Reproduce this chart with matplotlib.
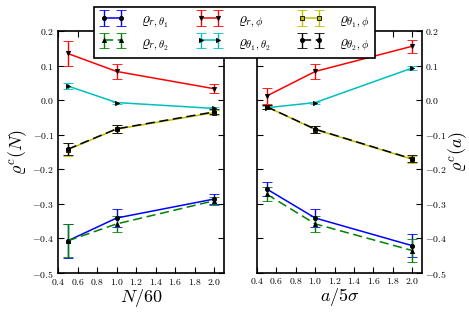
import matplotlib
matplotlib.use("Agg")
import matplotlib.pyplot as plt
from matplotlib.ticker import FuncFormatter, MultipleLocator

plt.rcParams["mathtext.fontset"] = "cm"
plt.rcParams["font.family"] = "serif"
plt.rcParams["font.serif"] = ["DejaVu Serif"]

# -----------------------------------------------------
# Data
# -----------------------------------------------------
x_vals = [0.5, 1.0, 2.0]

labels = [r"$\varrho_{r,\theta_1}$", r"$\varrho_{r,\theta_2}$",
          r"$\varrho_{r,\phi}$", r"$\varrho_{\theta_1,\theta_2}$",
          r"$\varrho_{\theta_1,\phi}$", r"$\varrho_{\theta_2,\phi}$"]

# left panel: varying N
n_r_t1 = [-0.407, -0.341, -0.286]
n_r_t1_err = [0.050, 0.026, 0.014]
n_r_t2 = [-0.407, -0.358, -0.291]
n_r_t2_err = [0.048, 0.024, 0.012]
n_r_phi = [0.135, 0.083, 0.033]
n_r_phi_err = [0.035, 0.021, 0.013]
n_t1_t2 = [0.041, -0.007, -0.024]
n_t1_t2_err = [0.010, 0.003, 0.004]
n_t1_phi = [-0.143, -0.084, -0.036]
n_t1_phi_err = [0.019, 0.011, 0.007]
n_t2_phi = [-0.142, -0.083, -0.034]
n_t2_phi_err = [0.018, 0.011, 0.007]

# right panel: varying a
a_r_t1 = [-0.257, -0.341, -0.421]
a_r_t1_err = [0.020, 0.026, 0.034]
a_r_t2 = [-0.272, -0.358, -0.435]
a_r_t2_err = [0.020, 0.024, 0.032]
a_r_phi = [0.012, 0.083, 0.156]
a_r_phi_err = [0.022, 0.021, 0.019]
a_t1_t2 = [-0.022, -0.007, 0.093]
a_t1_t2_err = [0.004, 0.003, 0.006]
a_t1_phi = [-0.019, -0.085, -0.171]
a_t1_phi_err = [0.006, 0.010, 0.010]
a_t2_phi = [-0.019, -0.084, -0.170]
a_t2_phi_err = [0.006, 0.010, 0.010]

styles = [
    dict(color="blue", marker="o", ls="-"),
    dict(color="green", marker="^", ls="--"),
    dict(color="red", marker="v", ls="-"),
    dict(color="c", marker=">", ls="-"),
    dict(color="y", marker="s", ls="-"),
    dict(color="black", marker="o", ls="--"),
]


def draw_panel(ax, series):
    handles = []
    for (vals, errs), st, lab in zip(series, styles, labels):
        h = ax.errorbar(x_vals, vals, yerr=errs, color=st["color"], ls=st["ls"],
                        marker=st["marker"], ms=3, mfc="k" if st["color"] != "y" else "y",
                        mec="k", mew=0.6, lw=1.1, capsize=3.5, elinewidth=1,
                        capthick=1, label=lab, dashes=(6, 3) if st["ls"] == "--" else None)
        handles.append(h)
    ax.set_xlim(0.4, 2.1)
    ax.set_ylim(-0.5, 0.2)
    ax.xaxis.set_major_locator(MultipleLocator(0.2))
    ax.yaxis.set_major_locator(MultipleLocator(0.1))
    fmt = FuncFormatter(lambda v, p: r"$%.1f$" % v if abs(v) > 1e-9 else r"$0.0$")
    ax.xaxis.set_major_formatter(fmt)
    ax.yaxis.set_major_formatter(fmt)
    ax.tick_params(direction="in", top=True, right=True, labelsize=7,
                   length=4, width=0.8, pad=3)
    for s in ax.spines.values():
        s.set_linewidth(1.2)
    return handles


fig = plt.figure(figsize=(4.69, 3.13), dpi=100)
ax1 = fig.add_axes([58 / 469, 40 / 313, 166 / 469, 242 / 313])
ax2 = fig.add_axes([257 / 469, 40 / 313, 165 / 469, 242 / 313])

left_series = [(n_r_t1, n_r_t1_err), (n_r_t2, n_r_t2_err), (n_r_phi, n_r_phi_err),
               (n_t1_t2, n_t1_t2_err), (n_t1_phi, n_t1_phi_err), (n_t2_phi, n_t2_phi_err)]
right_series = [(a_r_t1, a_r_t1_err), (a_r_t2, a_r_t2_err), (a_r_phi, a_r_phi_err),
                (a_t1_t2, a_t1_t2_err), (a_t1_phi, a_t1_phi_err), (a_t2_phi, a_t2_phi_err)]

handles = draw_panel(ax1, left_series)
draw_panel(ax2, right_series)

ax1.set_xlabel(r"$N/60$", fontsize=13, labelpad=0)
ax1.set_ylabel(r"$\varrho^c(N)$", fontsize=13, labelpad=2)
ax2.set_xlabel(r"$a/5\sigma$", fontsize=13, labelpad=0)
ax2.yaxis.tick_right()
ax2.tick_params(left=True, labelleft=False, labelright=True, pad=2)
ax2.yaxis.set_label_position("right")
ax2.set_ylabel(r"$\varrho^c(a)$", fontsize=13, labelpad=0)

leg = fig.legend(handles=handles, labels=labels, loc="upper center",
                 bbox_to_anchor=(0.5, 1 - 7 / 313), borderaxespad=0, ncol=3,
                 numpoints=2, fontsize=11, fancybox=False, framealpha=1,
                 edgecolor="k", handlelength=1.7, columnspacing=1.8,
                 borderpad=0.35, labelspacing=0.3, handletextpad=1.0)
leg.get_frame().set_linewidth(1.2)

fig.savefig("out.png", dpi=100)
